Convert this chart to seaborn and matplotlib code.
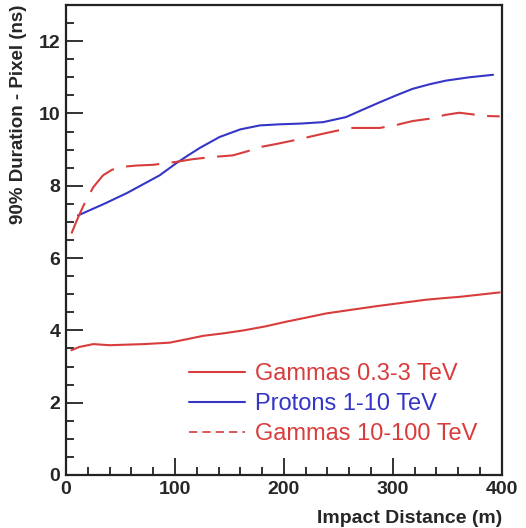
import matplotlib
matplotlib.use("Agg")
import matplotlib.pyplot as plt
from matplotlib.lines import Line2D
from matplotlib.ticker import MultipleLocator
import seaborn as sns
import pandas as pd

# Data
g_low_x = [5, 12, 25, 40, 71, 95, 110, 126, 145, 163, 183, 202, 220, 239, 262, 285, 308, 331, 346, 362, 380, 398]
g_low_y = [3.45, 3.54, 3.62, 3.59, 3.62, 3.66, 3.75, 3.85, 3.92, 4.00, 4.11, 4.24, 4.35, 4.47, 4.57, 4.67, 4.76, 4.85, 4.89, 4.93, 4.99, 5.05]

prot_x = [11, 35, 56, 86, 101, 112, 123, 141, 160, 178, 196, 215, 236, 257, 272, 288, 303, 318, 334, 349, 370, 392]
prot_y = [7.18, 7.50, 7.80, 8.29, 8.62, 8.84, 9.05, 9.35, 9.56, 9.67, 9.70, 9.72, 9.76, 9.90, 10.10, 10.31, 10.50, 10.68, 10.81, 10.91, 11.00, 11.07]

g_high_x = [5, 10, 16, 25, 34, 42, 50, 65, 80, 101, 115, 132, 153, 166, 178, 192, 205, 220, 233, 248, 263, 288, 303, 318, 335, 348, 361, 372, 385, 398]
g_high_y = [6.68, 7.05, 7.45, 7.96, 8.29, 8.44, 8.52, 8.56, 8.58, 8.66, 8.73, 8.79, 8.84, 8.95, 9.07, 9.15, 9.23, 9.33, 9.42, 9.52, 9.60, 9.60, 9.68, 9.79, 9.86, 9.96, 10.02, 9.98, 9.93, 9.92]

labels = ["Gammas 0.3-3 TeV", "Protons 1-10 TeV", "Gammas 10-100 TeV"]
x_ticks = [0, 100, 200, 300, 400]
y_ticks = [0, 2, 4, 6, 8, 10, 12]

RED = "#d93c3c"
BLUE = "#3535c8"

sns.set_style("white")
plt.rcParams["font.family"] = ["Liberation Sans", "DejaVu Sans"]

fig = plt.figure(figsize=(5.26, 5.28), dpi=100)
ax = fig.add_axes([0.1255, 0.1004, 0.8285, 0.8901])

df1 = pd.DataFrame({"x": g_low_x, "y": g_low_y})
df2 = pd.DataFrame({"x": prot_x, "y": prot_y})
df3 = pd.DataFrame({"x": g_high_x, "y": g_high_y})

sns.lineplot(data=df1, x="x", y="y", ax=ax, color=RED, lw=1.5, sort=True)
sns.lineplot(data=df2, x="x", y="y", ax=ax, color=BLUE, lw=1.5, sort=True)
sns.lineplot(data=df3, x="x", y="y", ax=ax, color=RED, lw=1.5, sort=True)
ax.lines[-1].set_dashes([16, 6])
for ln in ax.lines:
    ln.set_solid_joinstyle("round")
    ln.set_dash_joinstyle("round")

ax.set_xlim(0, 400)
ax.set_ylim(0, 13)
ax.set_xticks(x_ticks)
ax.set_yticks(y_ticks)
ax.xaxis.set_minor_locator(MultipleLocator(20))
ax.yaxis.set_minor_locator(MultipleLocator(0.5))
ax.tick_params(which="both", bottom=True, left=True, top=False, right=False)
ax.tick_params(which="major", direction="in", length=12, width=1.3, labelsize=14,
               color="#222222", pad=4)
ax.tick_params(which="minor", direction="in", length=6, width=1.3, color="#222222")
for lab in ax.get_xticklabels() + ax.get_yticklabels():
    lab.set_fontweight("bold")

for s in ax.spines.values():
    s.set_linewidth(1.6)
    s.set_color("#222222")

ax.set_xlabel("Impact Distance (m)", fontsize=14, fontweight="bold", ha="right")
ax.xaxis.set_label_coords(1.0, -0.075)
ax.set_ylabel("90% Duration - Pixel (ns)", fontsize=13.5, fontweight="bold", ha="right")
ax.yaxis.set_label_coords(-0.09, 1.0)

handles = [
    Line2D([], [], color=RED, lw=1.5),
    Line2D([], [], color=BLUE, lw=1.5),
    Line2D([], [], color=RED, lw=1.2, dashes=[5, 3]),
]
leg = ax.legend(handles, labels, loc="center left", bbox_to_anchor=(0.26, 0.151),
                frameon=False, fontsize=17, handlelength=2.4, handletextpad=0.4,
                labelspacing=0.34, borderaxespad=0)
for t, c in zip(leg.get_texts(), [RED, BLUE, RED]):
    t.set_color(c)

fig.savefig("out.png", dpi=100)
